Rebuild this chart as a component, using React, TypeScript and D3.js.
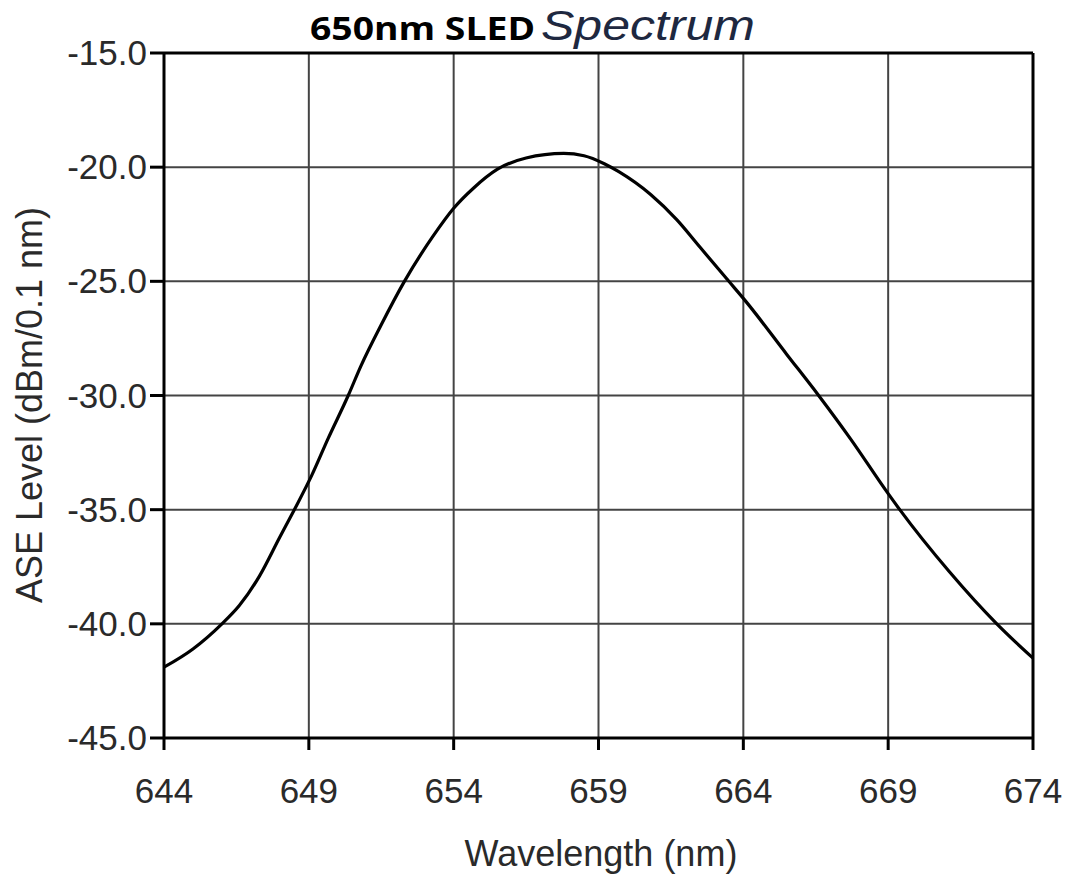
import React from "react";
import * as d3 from "d3";

const wavelengths = [644.0, 645.0, 646.0, 646.6, 647.3, 648.0, 648.5, 649.1, 649.66, 650.36, 650.8, 651.5, 652.3, 653.3, 654.0, 654.7, 655.5, 656.5, 657.8, 658.5, 659.2, 659.7, 660.8, 661.7, 662.5, 663.5, 664.1, 665.5, 666.6, 667.7, 669.0, 669.4, 671.1, 672.75, 673.4, 674.0];
const levels = [-41.9, -41.1, -40.0, -39.2, -37.9, -36.2, -35.0, -33.5, -31.9, -30.0, -28.7, -26.9, -25.0, -23.0, -21.8, -20.9, -20.1, -19.6, -19.4, -19.5, -19.85, -20.2, -21.2, -22.3, -23.5, -25.0, -25.9, -28.2, -30.0, -31.9, -34.3, -35.0, -37.7, -40.0, -40.8, -41.5];
const xTicks = [644, 649, 654, 659, 664, 669, 674];
const yTicks = [-15, -20, -25, -30, -35, -40, -45];

const W = 1071, H = 878;
const left = 164, right = 1033, top = 53, bottom = 738;

export default function App() {
  const x = d3.scaleLinear().domain([644, 674]).range([left, right]);
  const y = d3.scaleLinear().domain([-45, -15]).range([bottom, top]);
  const pts: [number, number][] = wavelengths.map((w, i) => [w, levels[i]]);
  const line = d3.line<[number, number]>()
    .x(d => x(d[0]))
    .y(d => y(d[1]))
    .curve(d3.curveMonotoneX);
  const labelFont = "'Liberation Sans', Arial, sans-serif";
  return (
    <svg width={W} height={H} style={{ position: "absolute", left: 0, top: 0, background: "#fff" }}>
      <rect x={0} y={0} width={W} height={H} fill="#fff" />
      {xTicks.slice(1, -1).map(t => (
        <line key={"gx" + t} x1={x(t)} x2={x(t)} y1={top} y2={bottom} stroke="#444" strokeWidth={2} />
      ))}
      {yTicks.slice(1, -1).map(t => (
        <line key={"gy" + t} x1={left} x2={right} y1={y(t)} y2={y(t)} stroke="#444" strokeWidth={2} />
      ))}
      <line x1={left} x2={right} y1={top} y2={top} stroke="#000" strokeWidth={3} />
      <line x1={left} x2={right} y1={bottom} y2={bottom} stroke="#000" strokeWidth={3} />
      <line x1={left} x2={left} y1={top} y2={bottom} stroke="#000" strokeWidth={3} />
      <line x1={right} x2={right} y1={top} y2={bottom} stroke="#000" strokeWidth={3} />
      {yTicks.map(t => (
        <line key={"ty" + t} x1={left - 14} x2={left} y1={y(t)} y2={y(t)} stroke="#000" strokeWidth={3} />
      ))}
      {xTicks.map(t => (
        <line key={"tx" + t} x1={x(t)} x2={x(t)} y1={bottom} y2={bottom + 12} stroke="#000" strokeWidth={3} />
      ))}
      <path d={line(pts) || ""} fill="none" stroke="#000" strokeWidth={3.2} strokeLinejoin="round" />
      {yTicks.map(t => (
        <text key={"ly" + t} x={147} y={y(t) + 12} textAnchor="end" fontFamily={labelFont} fontSize={35} fill="#2a2a2a">
          {t.toFixed(1)}
        </text>
      ))}
      {xTicks.map(t => (
        <text key={"lx" + t} x={x(t)} y={803} textAnchor="middle" fontFamily={labelFont} fontSize={35} fill="#2a2a2a">
          {String(t)}
        </text>
      ))}
      <text x={601} y={866} textAnchor="middle" fontFamily={labelFont} fontSize={36} fill="#2a2a2a">Wavelength (nm)</text>
      <text transform="translate(42,405) rotate(-90)" textAnchor="middle" fontFamily={labelFont} fontSize={36} fill="#2a2a2a">ASE Level (dBm/0.1 nm)</text>
      <text x={310} y={40} fontFamily="'Open Sans', 'Noto Sans', sans-serif" fontWeight={700} fontSize={33} fill="#000" textLength={225} lengthAdjust="spacingAndGlyphs">650nm SLED</text>
      <text x={541} y={40} fontFamily={labelFont} fontStyle="italic" fontSize={42} fill="#1e2840" textLength={214} lengthAdjust="spacingAndGlyphs">Spectrum</text>
    </svg>
  );
}
